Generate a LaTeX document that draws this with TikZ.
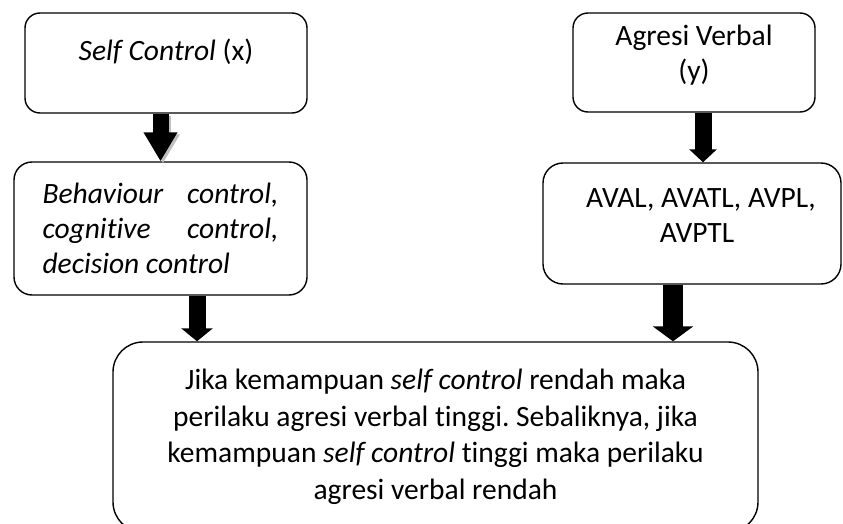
\documentclass[tikz,border=0pt]{standalone}
\usepackage{fontspec}
\setmainfont{Carlito}[Ligatures=NoCommon]
\usetikzlibrary{arrows.meta}
\hyphenpenalty=10000
\tolerance=10000
\hbadness=10000
\frenchspacing

\tikzset{
  box/.style={rectangle,
      draw = black,
      line width = 1.4pt,
      inner sep = 0pt,
      font = \fontsize{29.5}{35}\selectfont,
      align = center},
  blockarrow/.style n args={3}{line width=#1, -{Triangle[length=#2,width=#3]}}
}

\begin{document}
\begin{tikzpicture}[x=1pt,y=-1pt]
\useasboundingbox (0,0) rectangle (843,524);

% variabel x
\node[box,
    rounded corners = 15pt,
    minimum width = 282pt,
    minimum height = 100pt] (selfctrl) at (166,63) {\textit{Self Control} (x)\rule[-27pt]{0pt}{0pt}};

\node[box,
    rounded corners = 18pt,
    minimum width = 293pt,
    minimum height = 133pt,
    text width = 236pt,
    align = justify] (aspek) at (160.5,228.5) {\textit{Behaviour control, cognitive control, decision control}};

% variabel y
\node[box,
    rounded corners = 15pt,
    minimum width = 242pt,
    minimum height = 99pt] (agresi) at (694,62.5) {Agresi Verbal\\(y)\rule[-20pt]{0pt}{0pt}};

\node[box,
    rounded corners = 20pt,
    minimum width = 298pt,
    minimum height = 121pt] (indikator) at (692,223.5) {\hspace*{18pt}AVAL, AVATL, AVPL,\\\hspace*{10pt}AVPTL\rule[-16pt]{0pt}{0pt}};

% kesimpulan
\node[box,
    rounded corners = 30pt,
    minimum width = 645pt,
    minimum height = 190pt,
    font = \fontsize{29.5}{36.5}\selectfont] (simpulan) at (435.5,437) {Jika kemampuan \textit{self control} rendah maka\\perilaku agresi verbal tinggi. Sebaliknya, jika\\kemampuan \textit{self control} tinggi maka perilaku\\agresi verbal rendah};

% panah
\draw[blockarrow={16pt}{29pt}{32pt}, gray!50, transform canvas={shift={(2.5pt,-2pt)}}] (selfctrl.south -| aspek.north) -- (aspek.north);
\draw[blockarrow={16pt}{29pt}{32pt}] (selfctrl.south -| aspek.north) -- (aspek.north);
\draw[blockarrow={17pt}{13pt}{27pt}] ([xshift=9pt]agresi.south) -- ([xshift=11pt]indikator.north);
\draw[blockarrow={17pt}{13pt}{31pt}] ([xshift=36.5pt]aspek.south) -- ([xshift=36.5pt]aspek.south |- simpulan.north);
\draw[blockarrow={20pt}{15pt}{40pt}] ([xshift=-19pt]indikator.south) -- ([xshift=-19pt]indikator.south |- simpulan.north);

\end{tikzpicture}
\end{document}
